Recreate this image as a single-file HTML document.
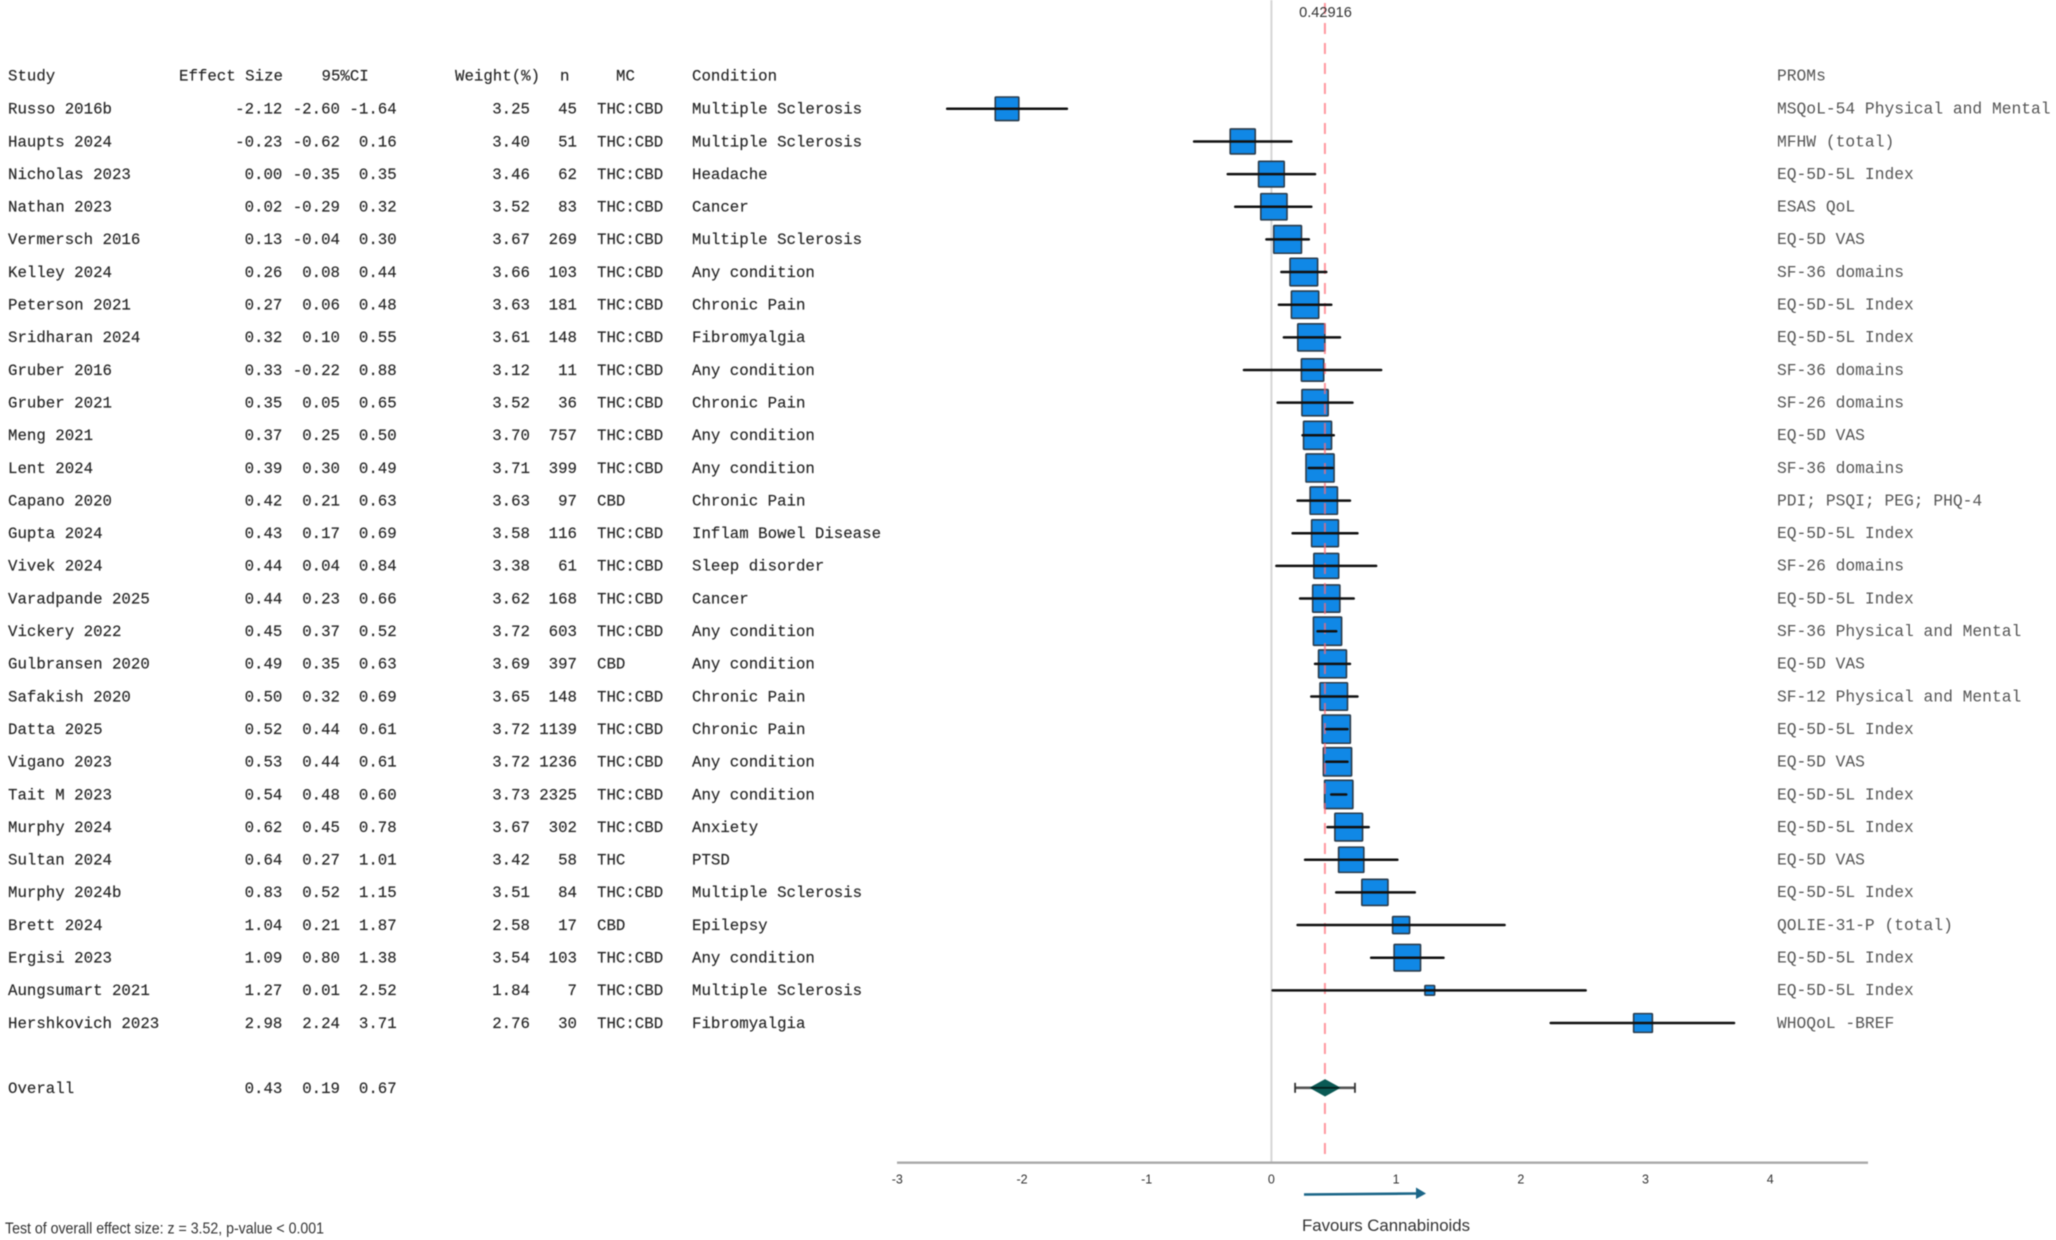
<!DOCTYPE html>
<html lang="en">
<head>
<meta charset="utf-8">
<title>Forest plot of cannabinoid effect sizes</title>
<style>
  html, body { margin: 0; padding: 0; background: #fff; }
  #chart { display: block; width: 2056px; height: 1240px; filter: blur(0.6px); }
  .mono { font-family: "Liberation Mono", monospace; font-size: 15.75px; fill: #262626; stroke: #262626; stroke-width: 0.15px; }
  .prom { font-family: "Liberation Mono", monospace; font-size: 16.3px; fill: #555555; }
  .sans { font-family: "Liberation Sans", sans-serif; fill: #333; }
</style>
</head>
<body>
<svg id="chart" xmlns="http://www.w3.org/2000/svg" width="2056" height="1240" viewBox="0 0 2056 1240">
  <rect width="2056" height="1240" fill="#ffffff"/>
  <g id="tableLayer"></g>
  <g id="plotLayer"></g>
</svg>
<script>
var studies = ["Russo 2016b","Haupts 2024","Nicholas 2023","Nathan 2023","Vermersch 2016","Kelley 2024","Peterson 2021","Sridharan 2024","Gruber 2016","Gruber 2021","Meng 2021","Lent 2024","Capano 2020","Gupta 2024","Vivek 2024","Varadpande 2025","Vickery 2022","Gulbransen 2020","Safakish 2020","Datta 2025","Vigano 2023","Tait M 2023","Murphy 2024","Sultan 2024","Murphy 2024b","Brett 2024","Ergisi 2023","Aungsumart 2021","Hershkovich 2023"];
var effects = [-2.12,-0.23,0.00,0.02,0.13,0.26,0.27,0.32,0.33,0.35,0.37,0.39,0.42,0.43,0.44,0.44,0.45,0.49,0.50,0.52,0.53,0.54,0.62,0.64,0.83,1.04,1.09,1.27,2.98];
var ciLow = [-2.60,-0.62,-0.35,-0.29,-0.04,0.08,0.06,0.10,-0.22,0.05,0.25,0.30,0.21,0.17,0.04,0.23,0.37,0.35,0.32,0.44,0.44,0.48,0.45,0.27,0.52,0.21,0.80,0.01,2.24];
var ciHigh = [-1.64,0.16,0.35,0.32,0.30,0.44,0.48,0.55,0.88,0.65,0.50,0.49,0.63,0.69,0.84,0.66,0.52,0.63,0.69,0.61,0.61,0.60,0.78,1.01,1.15,1.87,1.38,2.52,3.71];
var weights = [3.25,3.40,3.46,3.52,3.67,3.66,3.63,3.61,3.12,3.52,3.70,3.71,3.63,3.58,3.38,3.62,3.72,3.69,3.65,3.72,3.72,3.73,3.67,3.42,3.51,2.58,3.54,1.84,2.76];
var sampleSizes = [45,51,62,83,269,103,181,148,11,36,757,399,97,116,61,168,603,397,148,1139,1236,2325,302,58,84,17,103,7,30];
var compositions = ["THC:CBD","THC:CBD","THC:CBD","THC:CBD","THC:CBD","THC:CBD","THC:CBD","THC:CBD","THC:CBD","THC:CBD","THC:CBD","THC:CBD","CBD","THC:CBD","THC:CBD","THC:CBD","THC:CBD","CBD","THC:CBD","THC:CBD","THC:CBD","THC:CBD","THC:CBD","THC","THC:CBD","CBD","THC:CBD","THC:CBD","THC:CBD"];
var conditions = ["Multiple Sclerosis","Multiple Sclerosis","Headache","Cancer","Multiple Sclerosis","Any condition","Chronic Pain","Fibromyalgia","Any condition","Chronic Pain","Any condition","Any condition","Chronic Pain","Inflam Bowel Disease","Sleep disorder","Cancer","Any condition","Any condition","Chronic Pain","Chronic Pain","Any condition","Any condition","Anxiety","PTSD","Multiple Sclerosis","Epilepsy","Any condition","Multiple Sclerosis","Fibromyalgia"];
var proms = ["MSQoL-54 Physical and Mental","MFHW (total)","EQ-5D-5L Index","ESAS QoL","EQ-5D VAS","SF-36 domains","EQ-5D-5L Index","EQ-5D-5L Index","SF-36 domains","SF-26 domains","EQ-5D VAS","SF-36 domains","PDI; PSQI; PEG; PHQ-4","EQ-5D-5L Index","SF-26 domains","EQ-5D-5L Index","SF-36 Physical and Mental","EQ-5D VAS","SF-12 Physical and Mental","EQ-5D-5L Index","EQ-5D VAS","EQ-5D-5L Index","EQ-5D-5L Index","EQ-5D VAS","EQ-5D-5L Index","QOLIE-31-P (total)","EQ-5D-5L Index","EQ-5D-5L Index","WHOQoL -BREF"];
var overallEffect = 0.43;
var overallLow = 0.19;
var overallHigh = 0.67;
var referenceValue = 0.42916;
var xTicks = [-3,-2,-1,0,1,2,3,4];

var NS = "http://www.w3.org/2000/svg";
var tableLayer = document.getElementById("tableLayer");
var plotLayer = document.getElementById("plotLayer");

function xScale(v) { return 1271.4 + 124.7 * v; }
function rowMarkY(i) { return 108.8 + 32.65 * i; }
function rowTextY(i) { return 113.6 + 32.65 * i; }
function squareSize(w) { return 9.84 * w - 8.4; }

function svgEl(tag, attrs, parent) {
  var el = document.createElementNS(NS, tag);
  for (var k in attrs) { el.setAttribute(k, attrs[k]); }
  parent.appendChild(el);
  return el;
}
function txt(content, x, y, cls, anchor, parent) {
  var el = svgEl("text", { x: x, y: y, "class": cls, "text-anchor": anchor || "start" }, parent);
  el.textContent = content;
  return el;
}

/* ---------- table header ---------- */
var headerY = 80.5;
var h;
h = txt("Study", 8, headerY, "mono", "start", tableLayer);


h = txt("Effect Size", 179, headerY, "mono", "start", tableLayer);


h = txt("95%CI", 321.5, headerY, "mono", "start", tableLayer);


h = txt("Weight(%)", 455, headerY, "mono", "start", tableLayer);


h = txt("n", 560, headerY, "mono", "start", tableLayer);


h = txt("MC", 616, headerY, "mono", "start", tableLayer);


h = txt("Condition", 692, headerY, "mono", "start", tableLayer);


h = txt("PROMs", 1777, headerY, "prom", "start", tableLayer);



/* ---------- reference lines (below the marks: zero line) ---------- */
var zeroLine = svgEl("line", { x1: xScale(0), x2: xScale(0), y1: 0, y2: 1162, stroke: "#d6d6d6", "stroke-width": 2 }, plotLayer);



/* ---------- rows ---------- */
studies.forEach(function (name, i) {
  var ty = rowTextY(i);
  var row = svgEl("g", {}, tableLayer);
  
  
  var c;
  c = txt(name, 8, ty, "mono", "start", row);
  
  
  c = txt(effects[i].toFixed(2), 282.4, ty, "mono", "end", row);
  
  
  c = txt(ciLow[i].toFixed(2), 340, ty, "mono", "end", row);
  
  
  c = txt(ciHigh[i].toFixed(2), 396.7, ty, "mono", "end", row);
  
  
  c = txt(weights[i].toFixed(2), 530, ty, "mono", "end", row);
  
  
  c = txt(String(sampleSizes[i]), 577, ty, "mono", "end", row);
  
  
  c = txt(compositions[i], 597, ty, "mono", "start", row);
  
  
  c = txt(conditions[i], 692, ty, "mono", "start", row);
  
  
  c = txt(proms[i], 1777, ty, "prom", "start", row);
  
  

  var s = squareSize(weights[i]);
  var sq = svgEl("rect", {
    x: xScale(effects[i]) - s / 2, y: rowMarkY(i) - s / 2, width: s, height: s,
    fill: "#1088e6", stroke: "#2b3c4c", "stroke-width": 1.6, rx: 0.8
  }, plotLayer);
  
  
});

/* ---------- overall row text ---------- */
var overallTextY = rowTextY(30);
var o;
o = txt("Overall", 8, overallTextY, "mono", "start", tableLayer);


o = txt(overallEffect.toFixed(2), 282.4, overallTextY, "mono", "end", tableLayer);


o = txt(overallLow.toFixed(2), 340, overallTextY, "mono", "end", tableLayer);


o = txt(overallHigh.toFixed(2), 396.7, overallTextY, "mono", "end", tableLayer);



/* ---------- dashed reference line over the squares ---------- */
var refLine = svgEl("line", {
  x1: xScale(referenceValue), x2: xScale(referenceValue), y1: 3, y2: 1162,
  stroke: "#ff6a76", "stroke-width": 2, "stroke-dasharray": "11 9", opacity: 0.7
}, plotLayer);



/* ---------- whiskers ---------- */
studies.forEach(function (name, i) {
  var w = svgEl("line", {
    x1: xScale(ciLow[i]), x2: xScale(ciHigh[i]), y1: rowMarkY(i), y2: rowMarkY(i),
    stroke: "#111111", "stroke-width": 2.5, "stroke-linecap": "round"
  }, plotLayer);
  
  
});

/* ---------- overall diamond ---------- */
var oy = rowMarkY(30) - 0.5;
var ox = xScale(overallEffect);
var oLine = svgEl("line", { x1: xScale(overallLow), x2: xScale(overallHigh), y1: oy, y2: oy, stroke: "#555", "stroke-width": 2.6 }, plotLayer);


var capL = svgEl("line", { x1: xScale(overallLow), x2: xScale(overallLow), y1: oy - 5, y2: oy + 5, stroke: "#333", "stroke-width": 1.8 }, plotLayer);


var capH = svgEl("line", { x1: xScale(overallHigh), x2: xScale(overallHigh), y1: oy - 5, y2: oy + 5, stroke: "#333", "stroke-width": 1.8 }, plotLayer);


var dia = svgEl("polygon", { points: (ox - 15.7) + "," + oy + " " + ox + "," + (oy - 8.7) + " " + (ox + 15.7) + "," + oy + " " + ox + "," + (oy + 8.7), fill: "#0a5a55" }, plotLayer);


var oCore = svgEl("line", { x1: ox - 14, x2: ox + 14, y1: oy, y2: oy, stroke: "#04201e", "stroke-width": 1.8 }, plotLayer);



/* ---------- axis ---------- */
var axis = svgEl("line", { x1: 897, x2: 1868, y1: 1162.7, y2: 1162.7, stroke: "#a9a9a9", "stroke-width": 2.4 }, plotLayer);


xTicks.forEach(function (t) {
  var label = txt(String(t), xScale(t), 1183.5, "sans", "middle", plotLayer);
  label.setAttribute("font-size", "12.5");
  
  
});

/* ---------- annotations ---------- */
var refLabel = txt(referenceValue.toFixed(5), 1325.5, 17, "sans", "middle", plotLayer);
refLabel.setAttribute("font-size", "14.6");



var arrowShaft = svgEl("line", { x1: 1304, x2: 1418, y1: 1194.5, y2: 1193.5, stroke: "#1b6688", "stroke-width": 2.6 }, plotLayer);


var arrowHead = svgEl("polygon", { points: "1416,1187.5 1426,1193.5 1416,1199", fill: "#1b6688" }, plotLayer);



var fav = txt("Favours Cannabinoids", 1302, 1231, "sans", "start", plotLayer);
fav.setAttribute("font-size", "17");
fav.setAttribute("textLength", "168");
fav.setAttribute("lengthAdjust", "spacingAndGlyphs");



var testText = txt("Test of overall effect size: z = 3.52, p-value < 0.001", 5, 1233.5, "sans", "start", tableLayer);
testText.setAttribute("font-size", "15.5");
testText.setAttribute("textLength", "319");
testText.setAttribute("lengthAdjust", "spacingAndGlyphs");


</script>
</body>
</html>
